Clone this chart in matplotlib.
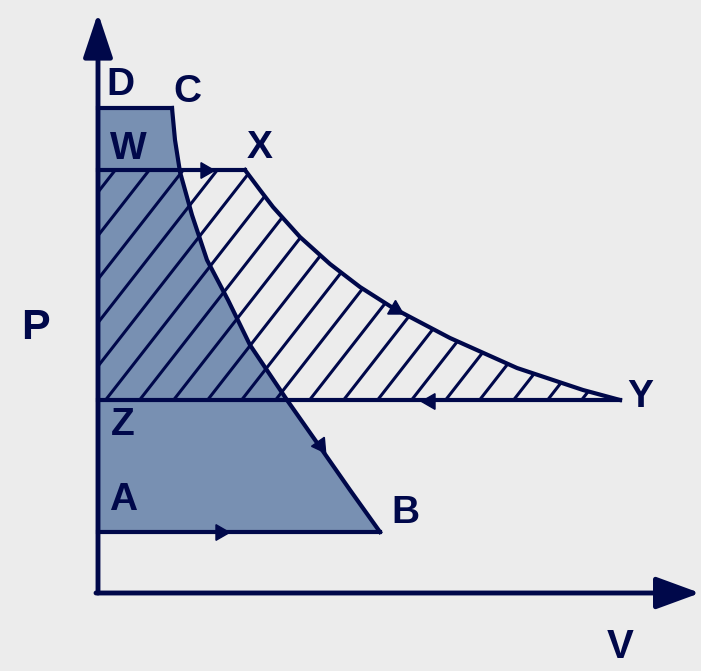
import numpy as np
import matplotlib.pyplot as plt
from matplotlib.patches import Polygon

# P-V diagram, pixel-like units (origin at the axes corner)
navy = '#00084a'
shade = '#7890b2'
bg = '#ececec'

# shaded cycle D-C-B-A
DC_v = [0, 74]
DC_p = [485, 485]
CB_v = [74, 77, 82, 94, 109, 130, 152, 189, 222, 252, 282]
CB_p = [485, 453, 421, 378, 333, 293, 248, 193, 146, 103, 61]
BA_v = [282, 0]
BA_p = [61, 61]

# hatched cycle W-X-Y-Z
WX_v = [0, 147]
WX_p = [423, 423]
XY_v = [147, 162, 175, 202, 232, 262, 295, 352, 419, 485, 522]
XY_p = [423, 403, 386, 356, 329, 306, 285, 255, 225, 203, 193]
YZ_v = [522, 0]
YZ_p = [193, 193]

# direction marks (v, p, angle of the triangle)
arrow_v = [107, 297, 332, 122, 222]
arrow_p = [423, 284, 192, 61, 148]
arrow_ang = [-90, -120, 90, -90, -145]

labels = ['D', 'C', 'W', 'X', 'Z', 'A', 'B', 'Y']
label_v = [22, 89, 30, 162, 25, 25, 307, 542]
label_p = [508, 501, 444, 445, 168, 93, 80, 196]

fig = plt.figure(figsize=(7.01, 6.71), dpi=100)
fig.patch.set_facecolor(bg)
ax = fig.add_axes([0, 0, 1, 1])
ax.set_facecolor(bg)
ax.set_xlim(-98, 603)
ax.set_ylim(-78, 593)
ax.axis('off')

# filled region
poly_dcba = list(zip(DC_v, DC_p)) + list(zip(CB_v, CB_p)) + list(zip(BA_v, BA_p))
ax.add_patch(Polygon(poly_dcba, closed=True, facecolor=shade, edgecolor='none', zorder=1))

# hatch for W-X-Y-Z, drawn by hand so the spacing matches
poly_wxyz = list(zip(WX_v, WX_p)) + list(zip(XY_v, XY_p)) + list(zip(YZ_v, YZ_p))
clip = Polygon(poly_wxyz, closed=True, facecolor='none', edgecolor='none')
ax.add_patch(clip)
slope = np.tan(np.radians(52))
for c in np.arange(-400, 560, 34):
    pp = np.array([150, 460])
    vv = c + (pp - 150) / slope
    ln, = ax.plot(vv, pp, color=navy, lw=2.2, zorder=2, solid_capstyle='butt')
    ln.set_clip_path(clip)

# outlines
for v, p in [(DC_v, DC_p), (CB_v, CB_p), (BA_v, BA_p),
             (WX_v, WX_p), (XY_v, XY_p), (YZ_v, YZ_p)]:
    ax.plot(v, p, color=navy, lw=3, zorder=3, solid_joinstyle='round')

for v, p, a in zip(arrow_v, arrow_p, arrow_ang):
    ax.plot(v, p, marker=(3, 0, a), color=navy, markersize=13, zorder=4)

# axes with arrows
ax.annotate('', xy=(0, 580), xytext=(0, 0),
            arrowprops=dict(arrowstyle='-|>,head_length=0.6,head_width=0.2',
                            lw=3.5, color=navy, mutation_scale=45, shrinkA=0, shrinkB=0),
            zorder=5)
ax.annotate('', xy=(602, 0), xytext=(-2, 0),
            arrowprops=dict(arrowstyle='-|>,head_length=0.6,head_width=0.22',
                            lw=3.5, color=navy, mutation_scale=45, shrinkA=0, shrinkB=0),
            zorder=5)

for t, v, p in zip(labels, label_v, label_p):
    ax.text(v, p, t, fontsize=28, fontweight='bold', color=navy,
            family='Liberation Sans', ha='center', va='center', zorder=6)
ax.text(-63, 265, 'P', fontsize=31, fontweight='bold', color=navy,
        family='Liberation Sans', ha='center', va='center')
ax.text(522, -54, 'V', fontsize=29, fontweight='bold', color=navy,
        family='Liberation Sans', ha='center', va='center')

fig.savefig('out.png', dpi=100, facecolor=bg)
